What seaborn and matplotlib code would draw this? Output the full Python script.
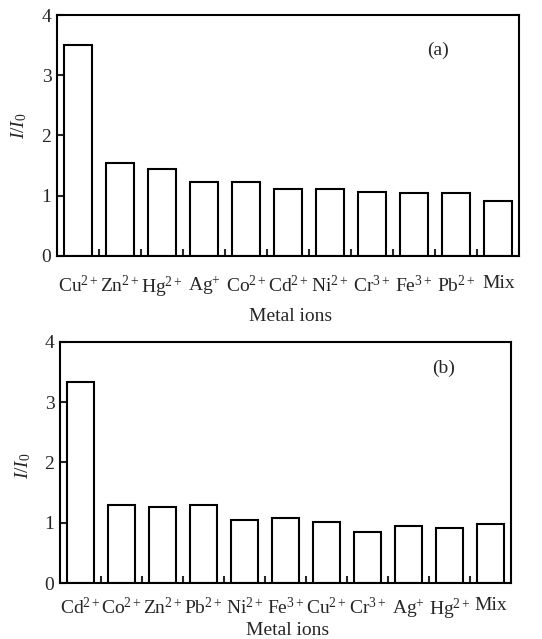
import pandas as pd
import seaborn as sns
import matplotlib.pyplot as plt
from matplotlib.ticker import FixedLocator

# Relative fluorescence I/I0 for each metal ion, two panels
ions_a = ["Cu$^{2+}$", "Zn$^{2+}$", "Hg$^{2+}$", "Ag$^{+}$", "Co$^{2+}$", "Cd$^{2+}$",
          "Ni$^{2+}$", "Cr$^{3+}$", "Fe$^{3+}$", "Pb$^{2+}$", "Mix"]
ratio_a = [3.50, 1.55, 1.44, 1.22, 1.22, 1.11, 1.11, 1.07, 1.04, 1.04, 0.92]

ions_b = ["Cd$^{2+}$", "Co$^{2+}$", "Zn$^{2+}$", "Pb$^{2+}$", "Ni$^{2+}$", "Fe$^{3+}$",
          "Cu$^{2+}$", "Cr$^{3+}$", "Ag$^{+}$", "Hg$^{2+}$", "Mix"]
ratio_b = [3.34, 1.29, 1.26, 1.29, 1.05, 1.08, 1.02, 0.85, 0.95, 0.92, 0.98]

yticks = [0, 1, 2, 3, 4]

sns.set_style("white")
plt.rcParams["font.family"] = ["Liberation Serif", "DejaVu Serif"]
plt.rcParams["mathtext.fontset"] = "custom"
plt.rcParams["mathtext.rm"] = "Liberation Serif"
plt.rcParams["mathtext.it"] = "Liberation Serif:italic"
plt.rcParams["mathtext.bf"] = "Liberation Serif:bold"
plt.rcParams["font.size"] = 14

fig = plt.figure(figsize=(5.42, 6.39), dpi=100)
ax_a = fig.add_axes([0.105, 0.5994, 0.853, 0.3771])
ax_b = fig.add_axes([0.1107, 0.0872, 0.8323, 0.3781])

# axis, labels, values, tag, tag position, x tick pad, ylabel y, xlabel y
panels = [(ax_a, ions_a, ratio_a, "(a)", (0.825, 0.855), 13.5, 0.54, -0.216),
          (ax_b, ions_b, ratio_b, "(b)", (0.85, 0.89), 10, 0.485, -0.16)]

for ax, ions, ratio, tag, pos, xpad, ylab_y, xlab_y in panels:
    df = pd.DataFrame({"ion": ions, "ratio": ratio})
    sns.barplot(data=df, x="ion", y="ratio", ax=ax, color="white",
                edgecolor="black", linewidth=1.5, width=0.66, saturation=1)
    ax.set_ylim(0, 4)
    ax.set_xlim(-0.5, len(ions) - 0.5)
    ax.set_yticks(yticks)
    ax.xaxis.set_minor_locator(FixedLocator([i + 0.5 for i in range(len(ions) - 1)]))
    ax.tick_params(axis="x", which="major", length=0, labelsize=14, pad=xpad)
    ax.tick_params(axis="x", which="minor", direction="in", length=5, width=1.5,
                   bottom=True)
    ax.tick_params(axis="y", direction="in", length=4, width=1.5, left=True,
                   labelsize=14, pad=4)
    for s in ax.spines.values():
        s.set_linewidth(1.5)
        s.set_color("black")
    ax.set_xlabel("Metal ions", fontsize=14)
    ax.set_ylabel("$I/I_0$", fontsize=14)
    ax.xaxis.set_label_coords(0.505, xlab_y)
    ax.yaxis.set_label_coords(-0.06, ylab_y)
    ax.text(pos[0], pos[1], tag, transform=ax.transAxes, fontsize=14,
            ha="center", va="center")

plt.savefig("out.png", dpi=100)
